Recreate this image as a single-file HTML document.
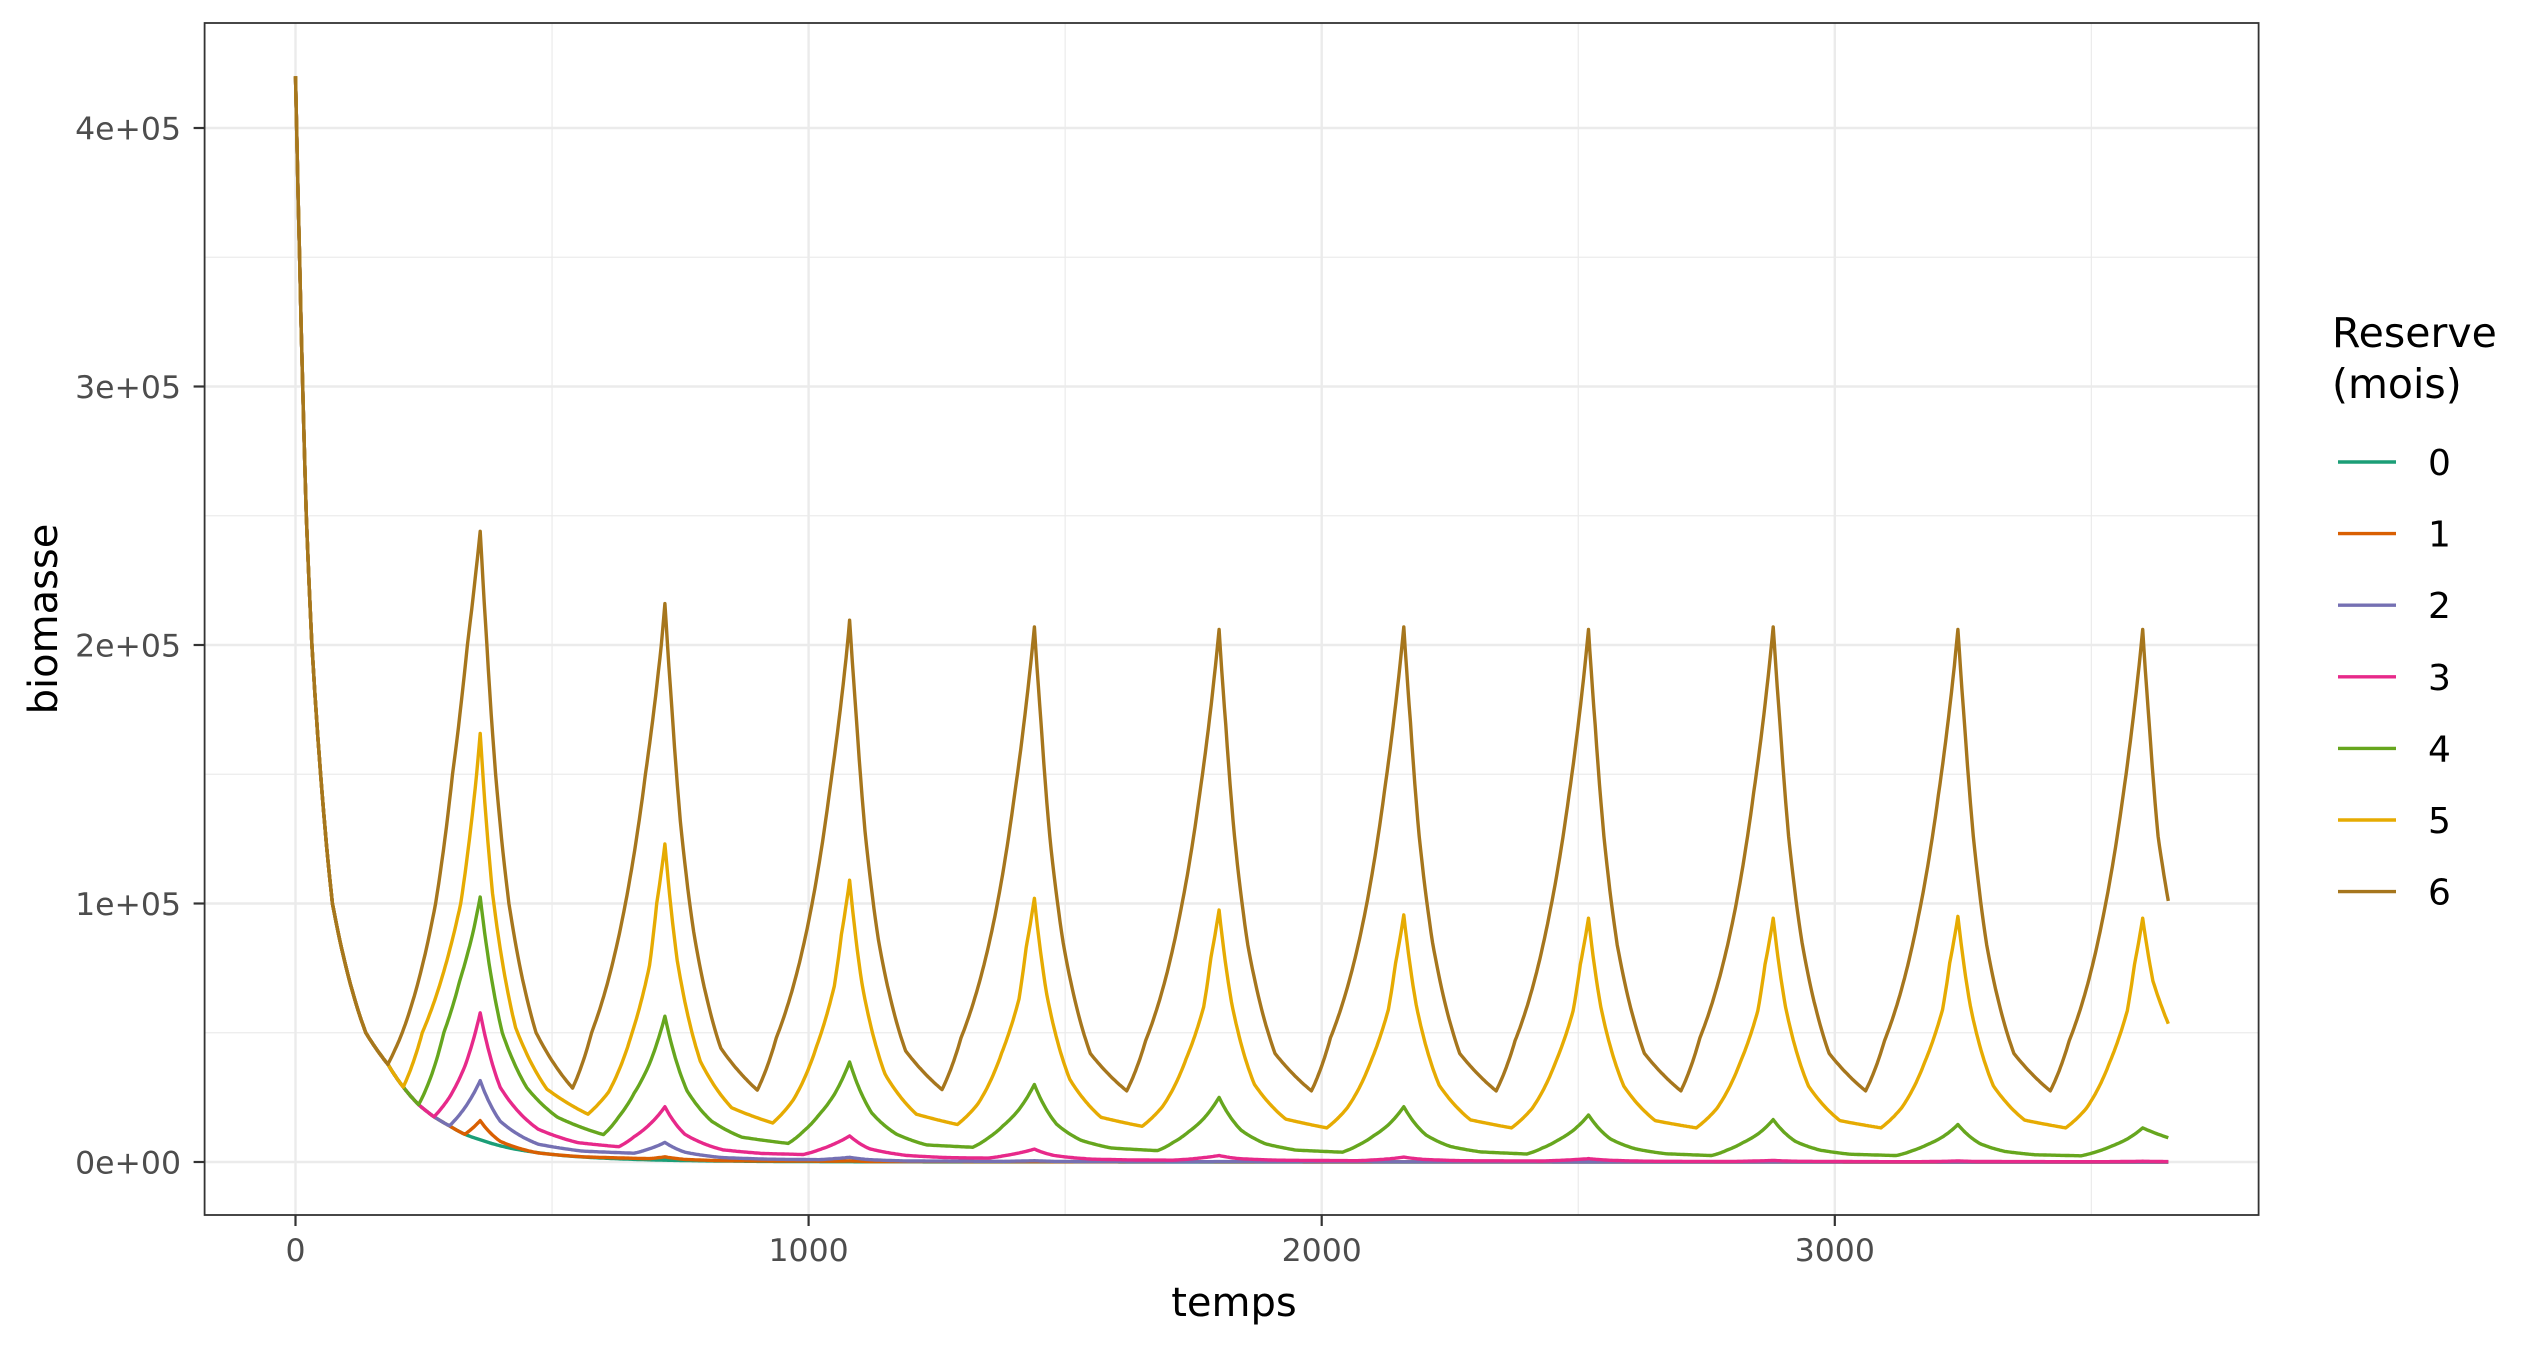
<!DOCTYPE html>
<html><head><meta charset="utf-8"><title>biomasse vs temps</title>
<style>
html,body{margin:0;padding:0;background:#fff;}
svg{display:block;font-family:"DejaVu Sans","Liberation Sans",sans-serif;}
</style></head>
<body>
<svg id="chart" width="2546" height="1350" viewBox="0 0 2546 1350" xmlns="http://www.w3.org/2000/svg">
<rect x="0" y="0" width="2546" height="1350" fill="#fff"/>
<g id="grid"></g>
<g id="series"></g>
<rect x="204.6" y="23" width="2054" height="1192" fill="none" stroke="#333" stroke-width="1.8"/>
<g id="axes"></g>
<text x="1234" y="1316" font-size="40" text-anchor="middle" fill="#000">temps</text>
<text transform="translate(57,619) rotate(-90)" font-size="40" text-anchor="middle" fill="#000">biomasse</text>
<g id="legend">
<text x="2332" y="347" font-size="41" fill="#000">Reserve</text>
<text x="2332" y="398" font-size="41" fill="#000">(mois)</text>
</g>
</svg>
<script>
// ---- data (biomass in thousands) ----
const xTicks = [0, 1000, 2000, 3000];
const xTickLabels = ["0", "1000", "2000", "3000"];
const xMinor = [500, 1500, 2500, 3500];
const yTicks = [0, 100, 200, 300, 400];
const yTickLabels = ["0e+00", "1e+05", "2e+05", "3e+05", "4e+05"];
const yMinor = [50, 150, 250, 350];
const categories = ["0", "1", "2", "3", "4", "5", "6"];
const colors = ["#1b9e77", "#d95f02", "#7570b3", "#e7298a", "#66a61e", "#e6ab02", "#a6761d"];

const initT = [0, 8, 14, 21, 32, 49, 72, 137, 180, 210, 240, 270, 300, 330];
const initV = [420, 350, 300, 250, 200, 150, 100, 50, 37.8, 29, 22.2, 17.5, 14, 10.7];

const t0 = [360, 420, 480, 540, 600, 720, 900, 1080, 1500, 3650];
const v0 = [8.6, 5.3, 3.4, 2.2, 1.5, 0.7, 0.25, 0.1, 0.02, 0];

const t1 = [360, 399, 473, 560, 690, 720, 759, 833, 1050, 1080, 1119, 1440, 3650];
const v1 = [16, 8, 3.5, 2, 1.3, 2, 1, 0.5, 0.3, 0.45, 0.2, 0.1, 0];

const t2 = [330, 360, 399, 473, 560, 660, 690, 720, 759, 833, 920, 1020, 1050, 1080, 1119, 1193, 1380, 1440, 1479, 1740, 1800, 3650];
const v2 = [21, 31.5, 15.8, 6.9, 4.2, 3.4, 5.1, 7.6, 3.8, 1.7, 1.1, 0.9, 1.3, 1.8, 0.9, 0.4, 0.25, 0.5, 0.25, 0.08, 0.15, 0];

const t3 = [300, 330, 360, 399, 473, 550, 630, 660, 690, 720, 759, 833, 910, 990, 1020, 1050, 1080, 1119, 1193, 1270, 1350, 1380, 1410, 1440, 1479, 1553, 1630, 1710, 1740, 1770, 1800, 1839, 1913, 2070, 2100, 2130, 2160, 2199, 2273, 2430, 2460, 2490, 2520, 2559, 2633, 2790, 2880, 2919, 3150, 3240, 3279, 3510, 3600, 3650];
const v3 = [25, 37, 57.7, 28.9, 12.7, 7.5, 5.9, 9.8, 14.5, 21.4, 10.7, 4.7, 3.3, 2.9, 4.7, 7, 10.1, 5.1, 2.5, 1.7, 1.5, 2.4, 3.5, 5, 2.5, 1.1, 0.8, 0.7, 1.1, 1.7, 2.5, 1.3, 0.7, 0.5, 0.8, 1.2, 1.9, 1, 0.5, 0.4, 0.6, 0.9, 1.3, 0.7, 0.3, 0.2, 0.6, 0.3, 0.1, 0.4, 0.2, 0.1, 0.3, 0.15];

const t4 = [289, 320, 345, 360, 403, 451, 510, 600, 630, 660, 690, 720, 763, 811, 870, 960, 990, 1020, 1050, 1080, 1123, 1171, 1230, 1320, 1350, 1380, 1410, 1440, 1483, 1531, 1590, 1680, 1710, 1740, 1770, 1800, 1843, 1891, 1950, 2040, 2070, 2100, 2130, 2160, 2203, 2251, 2310, 2400, 2430, 2460, 2490, 2520, 2563, 2611, 2670, 2760, 2790, 2820, 2850, 2880, 2923, 2971, 3030, 3120, 3150, 3180, 3210, 3240, 3283, 3331, 3390, 3480, 3510, 3540, 3570, 3600, 3650];
const v4 = [50, 70, 88, 102.5, 50, 28.7, 17.4, 10.6, 17.5, 26.6, 38, 56.4, 27.6, 15.8, 9.6, 7.2, 11.9, 18.2, 26.1, 38.7, 19, 10.8, 6.6, 5.7, 9.3, 14.2, 20.3, 30, 14.7, 8.4, 5.4, 4.4, 7.5, 11.6, 16.8, 25, 12.3, 7, 4.6, 3.8, 6.4, 10, 14.4, 21.4, 10.5, 6, 3.9, 3.1, 5.4, 8.4, 12.2, 18.2, 8.9, 5.1, 3.2, 2.5, 4.6, 7.4, 10.8, 16.4, 8, 4.6, 3, 2.5, 4.3, 6.7, 9.7, 14.5, 7.1, 4.1, 2.8, 2.4, 4, 6.2, 8.9, 13.2, 9.4];

const t5 = [247, 322, 353, 360, 384, 429, 490, 570, 610, 656, 690, 704, 720, 744, 789, 850, 930, 970, 1016, 1050, 1064, 1080, 1104, 1149, 1210, 1290, 1330, 1376, 1410, 1424, 1440, 1464, 1509, 1570, 1650, 1690, 1736, 1770, 1784, 1800, 1824, 1869, 1930, 2010, 2050, 2096, 2130, 2144, 2160, 2184, 2229, 2290, 2370, 2410, 2456, 2490, 2504, 2520, 2544, 2589, 2650, 2730, 2770, 2816, 2850, 2864, 2880, 2904, 2949, 3010, 3090, 3130, 3176, 3210, 3224, 3240, 3264, 3309, 3370, 3450, 3490, 3536, 3570, 3584, 3600, 3620, 3650];
const v5 = [50, 100, 150, 165.8, 104, 52, 28.2, 18.5, 27, 50, 76, 100, 123, 78, 39, 21, 15.1, 24, 45, 68, 88, 109, 69, 34, 18.5, 14.5, 22.5, 42, 63, 83, 102, 65, 32, 17.3, 13.8, 21.5, 40, 60, 79, 97.5, 62, 30, 16.6, 13.2, 21, 39, 59, 77, 95.6, 61, 29.7, 16.3, 13.2, 20.7, 38.7, 58.5, 76.4, 94.3, 60, 29.3, 16, 13.2, 20.7, 38.7, 58.5, 76.4, 94.3, 60, 29.3, 16, 13.2, 20.9, 39, 59, 77, 95, 60.5, 29.5, 16.2, 13.2, 20.7, 38.7, 58.5, 76.4, 94.3, 70, 53.5];

const t6 = [208, 273, 306, 335, 360, 373, 390, 416, 469, 540, 577, 643, 682, 713, 720, 733, 750, 776, 829, 900, 937, 1003, 1042, 1073, 1080, 1093, 1110, 1136, 1189, 1260, 1297, 1363, 1402, 1433, 1440, 1453, 1470, 1496, 1549, 1620, 1657, 1723, 1762, 1793, 1800, 1813, 1830, 1856, 1909, 1980, 2017, 2083, 2122, 2153, 2160, 2173, 2190, 2216, 2269, 2340, 2377, 2443, 2482, 2513, 2520, 2533, 2550, 2576, 2629, 2700, 2737, 2803, 2842, 2873, 2880, 2893, 2910, 2936, 2989, 3060, 3097, 3163, 3202, 3233, 3240, 3253, 3270, 3296, 3349, 3420, 3457, 3523, 3562, 3593, 3600, 3613, 3630, 3650];
const v6 = [50, 100, 150, 200, 244, 200, 150, 100, 50, 28.6, 50, 100, 150, 200, 216, 177, 132, 89, 44, 27.8, 48, 96, 145, 195, 209.6, 172, 128, 86, 43, 28, 48, 95, 143, 193, 207, 170, 126, 85, 42, 27.5, 47, 95, 142, 192, 206, 169, 126, 84, 42, 27.5, 48, 95, 143, 193, 207, 170, 126, 85, 42, 27.5, 47, 95, 142, 192, 206, 169, 126, 84, 42, 27.5, 48, 95, 143, 193, 207, 170, 126, 85, 42, 27.5, 47, 95, 142, 192, 206, 169, 126, 84, 42, 27.5, 47, 95, 142, 192, 206, 169, 126, 101];

const branchT = [330, 330, 300, 270, 240, 210, 180];
const seriesT = [t0, t1, t2, t3, t4, t5, t6];
const seriesV = [v0, v1, v2, v3, v4, v5, v6];

// ---- scales ----
const X0 = 295.5, XPX = 0.5131;
const Y0 = 1162, YPX = 2.585;
function sx(t){ return X0 + t * XPX; }
function sy(v){ return Y0 - v * YPX; }
const PL = 204.6, PR = 2258.6, PT = 23, PB = 1215;
const NS = "http://www.w3.org/2000/svg";
function mk(tag, attrs){ const e = document.createElementNS(NS, tag); for (const k in attrs) e.setAttribute(k, attrs[k]); return e; }

const grid = document.getElementById('grid');
yMinor.forEach(v => {
  const l = mk('line', {x1: PL, x2: PR, y1: sy(v), y2: sy(v), stroke: '#ebebeb', 'stroke-width': 1.2});
  
  
  grid.appendChild(l);
});
xMinor.forEach(t => {
  const l = mk('line', {x1: sx(t), x2: sx(t), y1: PT, y2: PB, stroke: '#ebebeb', 'stroke-width': 1.2});
  
  
  grid.appendChild(l);
});
yTicks.forEach(v => {
  const l = mk('line', {x1: PL, x2: PR, y1: sy(v), y2: sy(v), stroke: '#ebebeb', 'stroke-width': 2.4});
  
  
  grid.appendChild(l);
});
xTicks.forEach(t => {
  const l = mk('line', {x1: sx(t), x2: sx(t), y1: PT, y2: PB, stroke: '#ebebeb', 'stroke-width': 2.4});
  
  
  grid.appendChild(l);
});

// ---- series (log-linear rendering between data points for smooth exponential segments) ----
const sg = document.getElementById('series');
categories.forEach((c, i) => {
  const pts = [];
  for (let k = 0; k < initT.length; k++) { if (initT[k] <= branchT[i]) pts.push([initT[k], initV[k]]); }
  for (let k = 0; k < seriesT[i].length; k++) pts.push([seriesT[i][k], seriesV[i][k]]);
  const out = [[pts[0][0], pts[0][1]]];
  for (let k = 1; k < pts.length; k++) {
    const a = pts[k-1], b = pts[k];
    const va = Math.max(a[1], 0.01), vb = Math.max(b[1], 0.01);
    const n = Math.max(1, Math.ceil((b[0] - a[0]) / 3));
    for (let j = 1; j <= n; j++) {
      const f = j / n;
      const v = (j === n) ? b[1] : va * Math.pow(vb / va, f);
      out.push([a[0] + (b[0] - a[0]) * f, v]);
    }
  }
  const d = out.map(p => sx(p[0]).toFixed(1) + ',' + sy(p[1]).toFixed(1)).join(' ');
  const pl = mk('polyline', {points: d, fill: 'none', stroke: colors[i], 'stroke-width': 3.4, 'stroke-linejoin': 'round'});
  
  
  sg.appendChild(pl);
});

// ---- axes ----
const ax = document.getElementById('axes');
yTicks.forEach((v, i) => {
  const tk = mk('line', {x1: PL - 11, x2: PL, y1: sy(v), y2: sy(v), stroke: '#333', 'stroke-width': 2.2});
  
  
  ax.appendChild(tk);
  const tx = mk('text', {x: 181, y: sy(v) + 11.5, 'font-size': 31.5, 'text-anchor': 'end', fill: '#4d4d4d'});
  tx.textContent = yTickLabels[i];
  
  
  ax.appendChild(tx);
});
xTicks.forEach((t, i) => {
  const tk = mk('line', {x1: sx(t), x2: sx(t), y1: PB, y2: PB + 11, stroke: '#333', 'stroke-width': 2.2});
  
  
  ax.appendChild(tk);
  const tx = mk('text', {x: sx(t), y: 1261, 'font-size': 31.5, 'text-anchor': 'middle', fill: '#4d4d4d'});
  tx.textContent = xTickLabels[i];
  
  
  ax.appendChild(tx);
});

// ---- legend ----
const lg = document.getElementById('legend');
categories.forEach((c, i) => {
  const y = 462 + i * 71.6;
  const key = mk('line', {x1: 2338, x2: 2396, y1: y, y2: y, stroke: colors[i], 'stroke-width': 3.4});
  
  
  lg.appendChild(key);
  const tx = mk('text', {x: 2428, y: y + 13, 'font-size': 36, fill: '#000'});
  tx.textContent = c;
  
  
  lg.appendChild(tx);
});
</script>
</body></html>
